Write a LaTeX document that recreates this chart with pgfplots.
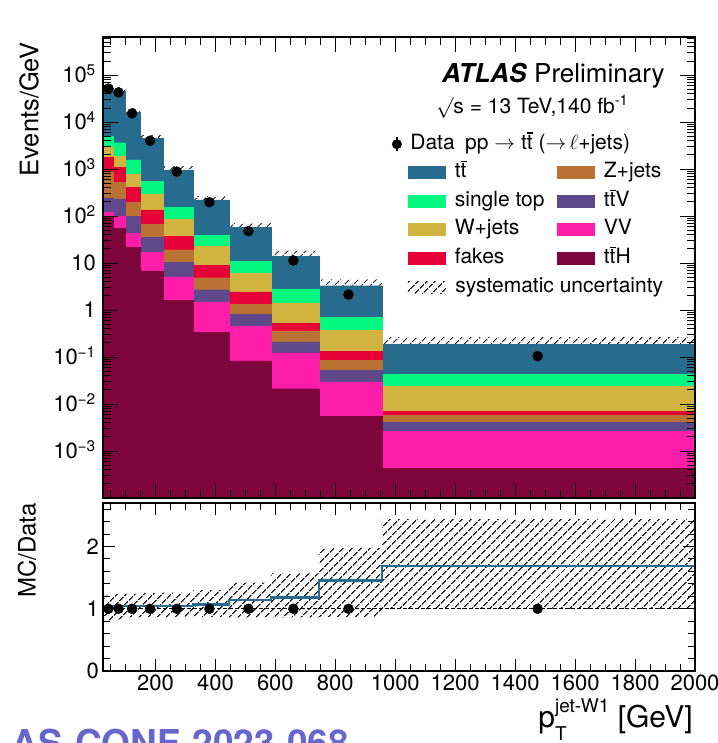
\documentclass[border=0pt]{standalone}
\usepackage{fontspec}
\setmainfont{TeX Gyre Heros}
\usepackage{pgfplots}
\usepackage{pgfplotstable}
\pgfplotsset{compat=1.18}
\usepgfplotslibrary{fillbetween}
\usetikzlibrary{patterns.meta}

% sample colours
\definecolor{ttcol}{RGB}{39,107,143}
\definecolor{stopcol}{RGB}{0,250,128}
\definecolor{wjcol}{RGB}{208,180,63}
\definecolor{fakecol}{RGB}{230,0,55}
\definecolor{zjcol}{RGB}{185,114,50}
\definecolor{ttvcol}{RGB}{95,72,140}
\definecolor{vvcol}{RGB}{255,30,170}
\definecolor{tthcol}{RGB}{125,5,60}
\definecolor{confcol}{RGB}{102,102,206}

\newcommand\tbar{\leavevmode\rlap{\hspace{0.01em}\rule[0.74em]{0.27em}{0.06em}}t}
\newcommand\fs[1]{\fontsize{#1}{#1}\selectfont}
\newcommand\swatch[1]{\path[draw=none,fill=none] (-10pt,-1pt) rectangle (47pt,1pt);\fill[#1,draw=none] (0pt,-6.5pt) rectangle (38pt,6.5pt);}
\tikzset{syshatch/.style={pattern={Lines[angle=45,distance=6.4pt,line width=1.15pt]},pattern color=black}}

% upper edge of every stacked layer (cumulative), per bin; last row closes the last bin
\pgfplotstableread{
x      tt       stop     wj       fake     zj       ttv      vv       tth
25     5.3e4    5.07e3   3.0e3    1.79e3   850      245      122      98
60     4.64e4   3.65e3   1.9e3    1.1e3    525      229      101      55.6
100    1.66e4   1.57e3   791      413      198      98       43.7     22
150    4.53e3   543      293      136      68.7     35.8     16.9     6.8
225    962      152      86       36.9     19.3     10.4     5.1      1.59
325    222      39.5     22.6     8.9      4.9      2.72     1.47     0.338
445    57.3     10.9     6.0      2.43     1.31     0.80     0.453    0.0834
585    13.9     2.82     1.42     0.516    0.35     0.211    0.123    0.0212
745    3.31     0.703    0.372    0.133    0.0847   0.0519   0.0293   0.0054
955    0.185    0.0428   0.0241   0.0069   0.00584  0.00403  0.00263  0.00043
2000   0.185    0.0428   0.0241   0.0069   0.00584  0.00403  0.00263  0.00043
}\stack

% systematic band (events/GeV), ratio band and MC/Data
\pgfplotstableread{
x      lo       hi       rlo    rhi    ratio
25     4.09e4   6.11e4   0.81   1.21   1.04
60     3.67e4   5.48e4   0.83   1.24   1.05
100    1.36e4   1.96e4   0.86   1.24   1.05
150    3.75e3   5.39e3   0.87   1.25   1.05
225    797      1154     0.87   1.26   1.05
325    180      270      0.87   1.30   1.07
445    43       71.0     0.86   1.42   1.146
585    10.1     18.4     0.86   1.57   1.183
745    1.98     4.51     0.87   1.98   1.454
955    0.1095   0.267    1.00   2.44   1.69
2000   0.1095   0.267    1.00   2.44   1.69
}\syst

\pgfplotstableread{
x      y       r
43     5.2e4   1
77     4.3e4   1
122    1.54e4  1
182    4.03e3  1
271    885     1
380    198     1
510    47.9    1
660    11.4    1
844    2.13    1
1475   0.1045  1
}\data

\pgfplotsset{
  panel/.style={
    scale only axis, width=592pt,
    xmin=25, xmax=2000,
    axis on top, tick align=inside, tick pos=both,
    axis line style={line width=1.4pt},
    every tick/.style={black, line width=1pt},
    xtick={200,400,...,2000},
    minor xtick={50,100,...,2000},
    tick label style={font=\fs{22}},
    /pgf/number format/assume math mode=true,
    /pgf/number format/1000 sep={},
  },
}

\begin{document}
\begin{tikzpicture}

\begin{axis}[panel,
  at={(103pt,245pt)}, anchor=south west, height=461pt,
  ymode=log, ymin=1e-4, ymax=6.5e5, log origin y=infty,
  major tick length=15pt, minor tick length=8pt,
  xticklabels={},
  ytick={1e-3,1e-2,0.1,1,10,100,1e3,1e4,1e5},
  yticklabels={10\textsuperscript{−3},10\textsuperscript{−2},10\textsuperscript{−1},1,10,10\textsuperscript{2},10\textsuperscript{3},10\textsuperscript{4},10\textsuperscript{5}},
  minor ytick={2e-4,3e-4,4e-4,5e-4,6e-4,7e-4,8e-4,9e-4,
    2e-3,3e-3,4e-3,5e-3,6e-3,7e-3,8e-3,9e-3,
    0.02,0.03,0.04,0.05,0.06,0.07,0.08,0.09,
    0.2,0.3,0.4,0.5,0.6,0.7,0.8,0.9,
    2,3,4,5,6,7,8,9,
    20,30,40,50,60,70,80,90,
    200,300,400,500,600,700,800,900,
    2000,3000,4000,5000,6000,7000,8000,9000,
    2e4,3e4,4e4,5e4,6e4,7e4,8e4,9e4,
    2e5,3e5,4e5,5e5,6e5},
  yticklabel style={inner sep=0pt, anchor=base east, xshift=-7pt, yshift=-7.8pt},
  ylabel={Events/GeV},
  ylabel style={at={(axis description cs:-0.125,0.989)}, anchor=east, inner sep=0pt, font=\fs{25.5}},
  legend columns=2,
  legend cell align=left,
  legend style={at={(axis description cs:0.488,0.787)}, anchor=north west,
    draw=none, fill=none, inner sep=0pt, outer sep=0pt,
    column sep=0pt, row sep=10.6pt, font=\fs{21},
    nodes={inner sep=0pt, text height=14pt, text depth=4pt}},
]
% stacked backgrounds, drawn from the full stack down to the lowest layer
\addplot[ybar interval, fill=ttcol, draw=ttcol, line width=0.3pt, forget plot] table[x=x,y=tt]{\stack};
\addplot[ybar interval, fill=stopcol, draw=stopcol, line width=0.3pt, forget plot] table[x=x,y=stop]{\stack};
\addplot[ybar interval, fill=wjcol, draw=wjcol, line width=0.3pt, forget plot] table[x=x,y=wj]{\stack};
\addplot[ybar interval, fill=fakecol, draw=fakecol, line width=0.3pt, forget plot] table[x=x,y=fake]{\stack};
\addplot[ybar interval, fill=zjcol, draw=zjcol, line width=0.3pt, forget plot] table[x=x,y=zj]{\stack};
\addplot[ybar interval, fill=ttvcol, draw=ttvcol, line width=0.3pt, forget plot] table[x=x,y=ttv]{\stack};
\addplot[ybar interval, fill=vvcol, draw=vvcol, line width=0.3pt, forget plot] table[x=x,y=vv]{\stack};
\addplot[ybar interval, fill=tthcol, draw=tthcol, line width=0.3pt, forget plot] table[x=x,y=tth]{\stack};

% systematic uncertainty band
\addplot[name path=shi, draw=none, const plot, forget plot] table[x=x,y=hi]{\syst};
\addplot[name path=slo, draw=none, const plot, forget plot] table[x=x,y=lo]{\syst};
\addplot[syshatch, draw=none, forget plot] fill between[of=shi and slo];

% data
\addplot[only marks, mark=*, mark size=5pt, black, forget plot] table[x=x,y=y]{\data};

% legend
\addlegendimage{legend image code/.code={\path[draw=none,fill=none] (-16pt,-1pt) rectangle (47pt,1pt);
  \draw[black,line width=1.2pt] (-11pt,-7pt) -- (-11pt,7pt); \fill[black,draw=none] (-11pt,0pt) circle (5pt);}}
\addlegendentry{\makebox[0pt][l]{\hspace{-45pt}Data\hspace{0.5em}pp $\rightarrow$ t\tbar\ ($\mathord{\rightarrow}\,\ell$+jets)}}
\addlegendimage{empty legend}\addlegendentry{}
\addlegendimage{legend image code/.code={\swatch{ttcol}}}\addlegendentry{t\tbar}
\addlegendimage{legend image code/.code={\swatch{zjcol}}}\addlegendentry{Z+jets}
\addlegendimage{legend image code/.code={\swatch{stopcol}}}\addlegendentry{\makebox[92pt][l]{single top}}
\addlegendimage{legend image code/.code={\swatch{ttvcol}}}\addlegendentry{t\tbar V}
\addlegendimage{legend image code/.code={\swatch{wjcol}}}\addlegendentry{W+jets}
\addlegendimage{legend image code/.code={\swatch{vvcol}}}\addlegendentry{VV}
\addlegendimage{legend image code/.code={\swatch{fakecol}}}\addlegendentry{fakes}
\addlegendimage{legend image code/.code={\swatch{tthcol}}}\addlegendentry{t\tbar H}
\addlegendimage{legend image code/.code={\path[draw=none,fill=none] (-10pt,-1pt) rectangle (47pt,1pt);
  \fill[syshatch,draw=none] (0pt,-6pt) rectangle (38pt,6pt);}}
\addlegendentry{\makebox[0pt][l]{systematic uncertainty}}

\node[anchor=base east, inner sep=0pt, font=\fs{26}] at (axis description cs:0.949,0.902)
  {\textbf{\textit{ATLAS}} Preliminary};
\node[anchor=base west, inner sep=0pt, font=\fs{21}] at (axis description cs:0.5625,0.835)
  {$\surd$s = 13 TeV,140 fb\textsuperscript{-1}};
\end{axis}

\begin{axis}[panel,
  at={(103pt,72pt)}, anchor=south west, height=168pt,
  ymin=0, ymax=2.7,
  major tick length=12pt, minor tick length=7pt,
  ytick={0,1,2}, minor ytick={0.2,0.4,...,2.61},
  xticklabel style={inner sep=0pt, anchor=north, yshift=-4pt},
  yticklabel style={inner sep=0pt, anchor=base east, xshift=-4pt, yshift=-7.8pt},
  ylabel={MC/Data},
  ylabel style={at={(axis description cs:-0.1284,1)}, anchor=east, inner sep=0pt, font=\fs{24}},
  xlabel={p\rlap{\raisebox{-13pt}{\fs{19}T}}\raisebox{15pt}{\fs{19}jet-W1} [GeV]},
  xlabel style={at={(axis description cs:1,0)}, anchor=base east, inner sep=0pt,
    xshift=-2pt, yshift=-56pt, font=\fs{30}},
]
\addplot[name path=rhi, draw=none, const plot, forget plot] table[x=x,y=rhi]{\syst};
\addplot[name path=rlo, draw=none, const plot, forget plot] table[x=x,y=rlo]{\syst};
\addplot[syshatch, draw=none, forget plot] fill between[of=rhi and rlo];
\addplot[black, dashed, dash pattern=on 3.5pt off 2.5pt, line width=0.8pt, forget plot] coordinates {(25,1) (2000,1)};
\addplot[const plot, ttcol, line width=2.3pt, forget plot] table[x=x,y=ratio]{\syst};
\addplot[only marks, mark=*, mark size=5pt, black, forget plot] table[x=x,y=r]{\data};
\end{axis}

% document reference printed along the lower edge
\node[anchor=base west, inner sep=0pt, font=\bfseries\fs{37}, text=confcol] at (-58pt,-13.5pt) {ATLAS-CONF-2023-068};
\pgfresetboundingbox
\useasboundingbox (0,0) rectangle (717pt,743pt);
\end{tikzpicture}
\end{document}
